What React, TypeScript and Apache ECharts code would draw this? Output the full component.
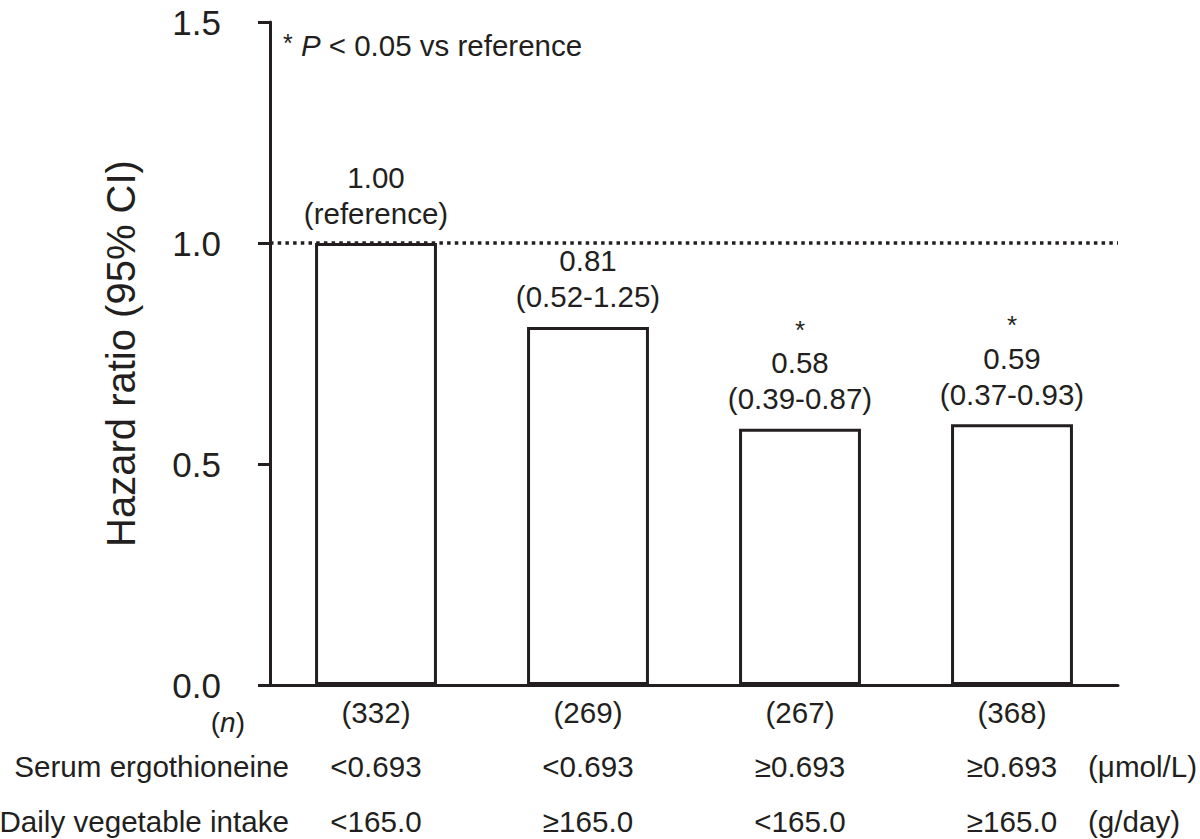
import React, { useEffect, useRef } from "react";
import * as echarts from "echarts";

const categories = ["g1", "g2", "g3", "g4"];
const hazardRatios = [1.0, 0.81, 0.58, 0.59];
const hrLabels = ["1.00", "0.81", "0.58", "0.59"];
const ciLabels = ["(reference)", "(0.52-1.25)", "(0.39-0.87)", "(0.37-0.93)"];
const significant = [false, false, true, true];
const nCounts = ["(332)", "(269)", "(267)", "(368)"];
const serumGroups = ["<0.693", "<0.693", "≥0.693", "≥0.693"];
const vegGroups = ["<165.0", "≥165.0", "<165.0", "≥165.0"];
const yTicks = [0, 0.5, 1.0, 1.5];

const FONT = "'Liberation Sans', Arial, Helvetica, sans-serif";
const INK = "#231f20";
const ROW = 29.6;

export default function App() {
  const ref = useRef<HTMLDivElement>(null);

  useEffect(() => {
    if (!ref.current) return;
    const chart = echarts.init(ref.current, null, { renderer: "svg" });
    const option: any = {
      animation: false,
      backgroundColor: "#ffffff",
      textStyle: { fontFamily: FONT, color: INK },
      grid: { left: 270, right: 82, top: 22, bottom: 154, containLabel: false },
      xAxis: {
        type: "category",
        data: categories,
        axisLine: { show: true, lineStyle: { color: INK, width: 3 } },
        axisTick: { show: false },
        axisLabel: {
          interval: 0,
          margin: 5,
          formatter: (_v: string, i: number) =>
            `{n|${nCounts[i]}}\n{a|${serumGroups[i]}}\n{b|${vegGroups[i]}}`,
          rich: {
            n: { fontSize: ROW, lineHeight: 44, fontFamily: FONT, color: INK },
            a: { fontSize: ROW, lineHeight: 64, fontFamily: FONT, color: INK },
            b: { fontSize: ROW, lineHeight: 46, fontFamily: FONT, color: INK },
          },
        },
        splitLine: { show: false },
      },
      yAxis: {
        type: "value",
        min: yTicks[0],
        max: yTicks[yTicks.length - 1],
        interval: 0.5,
        name: "Hazard ratio (95% CI)",
        nameLocation: "middle",
        nameRotate: 90,
        nameGap: 129,
        nameTextStyle: { fontSize: 40, fontFamily: FONT, color: INK },
        axisLine: { show: true, lineStyle: { color: INK, width: 3 } },
        axisTick: { show: true, inside: false, length: 12, lineStyle: { color: INK, width: 3 } },
        axisLabel: {
          margin: 49,
          fontSize: 35,
          fontFamily: FONT,
          color: INK,
          formatter: (v: number) => v.toFixed(1),
        },
        splitLine: { show: false },
      },
      series: [
        {
          type: "bar",
          data: hazardRatios,
          barWidth: "57.5%",
          itemStyle: { color: "#ffffff", borderColor: INK, borderWidth: 3 },
          label: {
            show: true,
            position: "top",
            distance: 12,
            formatter: (p: any) => {
              const i = p.dataIndex;
              const lines = [`{v|${hrLabels[i]}}`, `{v|${ciLabels[i]}}`];
              if (significant[i]) lines.unshift("{s|*}");
              return lines.join("\n");
            },
            rich: {
              v: { fontSize: 29.5, lineHeight: 36, fontFamily: FONT, color: INK, align: "center" },
              s: { fontSize: 26, lineHeight: 30, fontFamily: FONT, color: INK, align: "center" },
            },
          },
          markLine: {
            silent: true,
            symbol: ["none", "none"],
            label: { show: false },
            lineStyle: { color: INK, width: 3.5, type: [3.5, 4.2] },
            data: [{ yAxis: 1.0 }],
          },
        },
      ],
      graphic: [
        {
          type: "text",
          left: 283,
          top: 30,
          style: {
            text: "{s|*} {i|P} < 0.05 vs reference",
            fontFamily: FONT,
            fontSize: 29.5,
            fill: INK,
            rich: {
              s: { fontSize: 25, fontFamily: FONT, fill: INK, verticalAlign: "top" },
              i: { fontSize: 29.5, fontStyle: "italic", fontFamily: FONT, fill: INK },
            },
          },
        },
        {
          type: "text",
          x: 245,
          y: 722,
          style: {
            text: "({i|n})",
            fontFamily: FONT,
            fontSize: 28,
            fill: INK,
            align: "right",
            verticalAlign: "middle",
            rich: { i: { fontSize: 28, fontStyle: "italic", fontFamily: FONT, fill: INK } },
          },
        },
        {
          type: "text",
          x: 289,
          y: 766,
          style: { text: "Serum ergothioneine", fontFamily: FONT, fontSize: ROW, fill: INK, align: "right", verticalAlign: "middle" },
        },
        {
          type: "text",
          x: 289,
          y: 821,
          style: { text: "Daily vegetable intake", fontFamily: FONT, fontSize: ROW, fill: INK, align: "right", verticalAlign: "middle" },
        },
        {
          type: "text",
          x: 1088,
          y: 766,
          style: { text: "(μmol/L)", fontFamily: FONT, fontSize: ROW, fill: INK, align: "left", verticalAlign: "middle" },
        },
        {
          type: "text",
          x: 1088,
          y: 821,
          style: { text: "(g/day)", fontFamily: FONT, fontSize: ROW, fill: INK, align: "left", verticalAlign: "middle" },
        },
      ],
    };
    chart.setOption(option);
    return () => chart.dispose();
  }, []);

  return (
    <div
      ref={ref}
      style={{ position: "absolute", left: 0, top: 0, width: 1200, height: 839, background: "#fff" }}
    />
  );
}
